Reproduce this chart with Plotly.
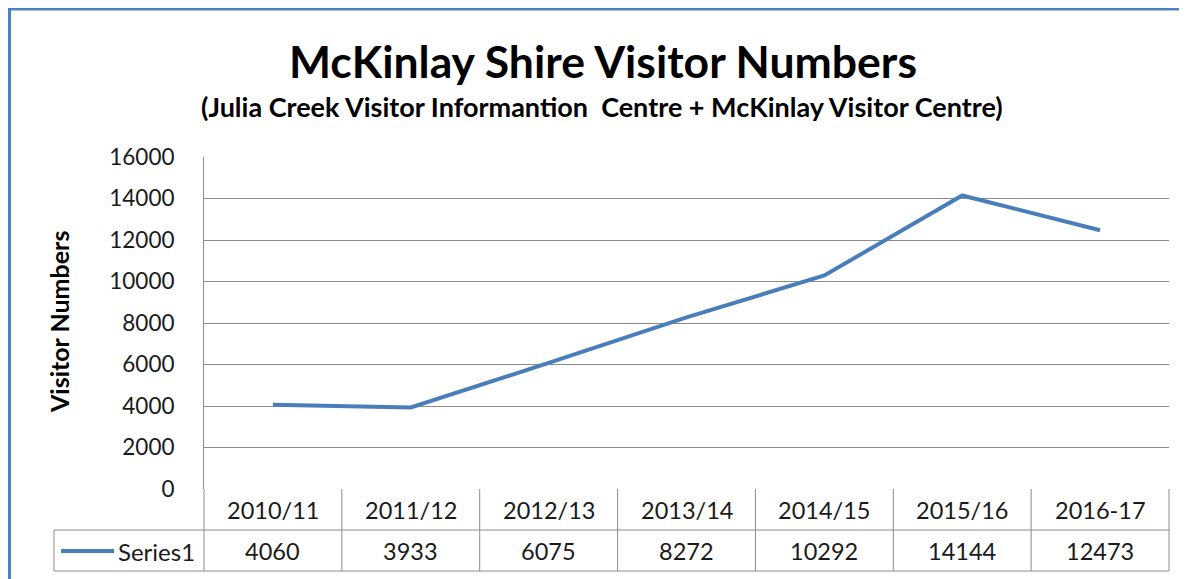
import plotly.graph_objects as go

categories = ["2010/11", "2011/12", "2012/13", "2013/14", "2014/15", "2015/16", "2016-17"]
visitors = [4060, 3933, 6075, 8272, 10292, 14144, 12473]
series_name = "Series1"
title_text = "McKinlay Shire Visitor Numbers"
subtitle_text = "(Julia Creek Visitor Informantion  Centre + McKinlay Visitor Centre)"
y_title = "Visitor Numbers"

# the page body adds an 8px offset; work in reference-pixel coordinates
OFF = 8
W, H = 1187 - OFF, 579 - OFF
L, R, T, B = 204 - OFF, 18, 157 - OFF, 90
PW, PH = W - L - R, H - T - B

def px(x):
    return (x - OFF - L) / PW

def py(y):
    return (H - B - (y - OFF)) / PH

FONT = "Lato"
TXT = "#1a1a1a"
GRID = "#8c8c8c"
BLUE = "#4A7EBB"

fig = go.Figure()
fig.add_trace(go.Scatter(
    x=categories, y=visitors, mode="lines", name=series_name,
    line=dict(color=BLUE, width=4), showlegend=False, cliponaxis=False,
))

n = len(categories)
shapes = []
row1 = py(530)
row2 = py(571)
line_style = dict(color=GRID, width=1)
shapes.append(dict(type="line", xref="paper", yref="paper", x0=px(54), x1=1, y0=row1, y1=row1, line=line_style))
shapes.append(dict(type="line", xref="paper", yref="paper", x0=px(54), x1=1, y0=row2, y1=row2, line=line_style))
for i in range(n + 1):
    shapes.append(dict(type="line", xref="x domain", yref="paper", x0=i / n, x1=i / n, y0=row2, y1=0, line=line_style))
shapes.append(dict(type="line", xref="paper", yref="paper", x0=px(54), x1=px(54), y0=row2, y1=row1, line=line_style))
ly = py(551)
shapes.append(dict(type="line", xref="paper", yref="paper", x0=px(61), x1=px(114), y0=ly, y1=ly,
                   line=dict(color=BLUE, width=4)))
shapes.append(dict(type="rect", xref="paper", yref="paper", x0=px(9), x1=px(1200), y0=py(600), y1=py(8.5),
                   line=dict(color="#4F81BD", width=4), fillcolor="rgba(0,0,0,0)", layer="above"))

annotations = []
for c, v in zip(categories, visitors):
    annotations.append(dict(x=c, xref="x", y=py(509.5), yref="paper", text=c, showarrow=False,
                            font=dict(family=FONT, size=23.5, color=TXT), xanchor="center", yanchor="middle"))
    annotations.append(dict(x=c, xref="x", y=py(551), yref="paper", text=str(v), showarrow=False,
                            font=dict(family=FONT, size=23.5, color=TXT), xanchor="center", yanchor="middle"))
annotations.append(dict(x=px(116), xref="paper", y=py(551), yref="paper", text=series_name, showarrow=False,
                        font=dict(family=FONT, size=24, color=TXT), xanchor="left", yanchor="middle"))
annotations.append(dict(x=px(59), xref="paper", y=py(322), yref="paper", text="<b>" + y_title + "</b>",
                        showarrow=False, textangle=-90, font=dict(family=FONT, size=25, color="#000000"),
                        xanchor="center", yanchor="middle"))
annotations.append(dict(x=px(602), xref="paper", y=py(106), yref="paper", text="<b>" + subtitle_text + "</b>",
                        showarrow=False, font=dict(family=FONT, size=27, color="#000000"),
                        xanchor="center", yanchor="middle"))
annotations.append(dict(x=px(603), xref="paper", y=py(61), yref="paper", text="<b>" + title_text + "</b>",
                        showarrow=False, font=dict(family=FONT, size=44.5, color="#000000"),
                        xanchor="center", yanchor="middle"))

fig.update_layout(
    width=W, height=H,
    margin=dict(l=L, r=R, t=T, b=B, pad=0),
    paper_bgcolor="white", plot_bgcolor="white",
    shapes=shapes, annotations=annotations,
    xaxis=dict(type="category", range=[-0.5, n - 0.5], showticklabels=False, showgrid=False,
               zeroline=False, showline=False, ticks=""),
    yaxis=dict(range=[0, 16000], dtick=2000, tickformat="d", showgrid=True, gridcolor=GRID, gridwidth=1,
               zeroline=False, showline=True, linecolor=GRID, linewidth=1, ticks="",
               ticklabelstandoff=24, tickfont=dict(family=FONT, size=22.5, color=TXT)),
)

fig.write_html("out.html")
